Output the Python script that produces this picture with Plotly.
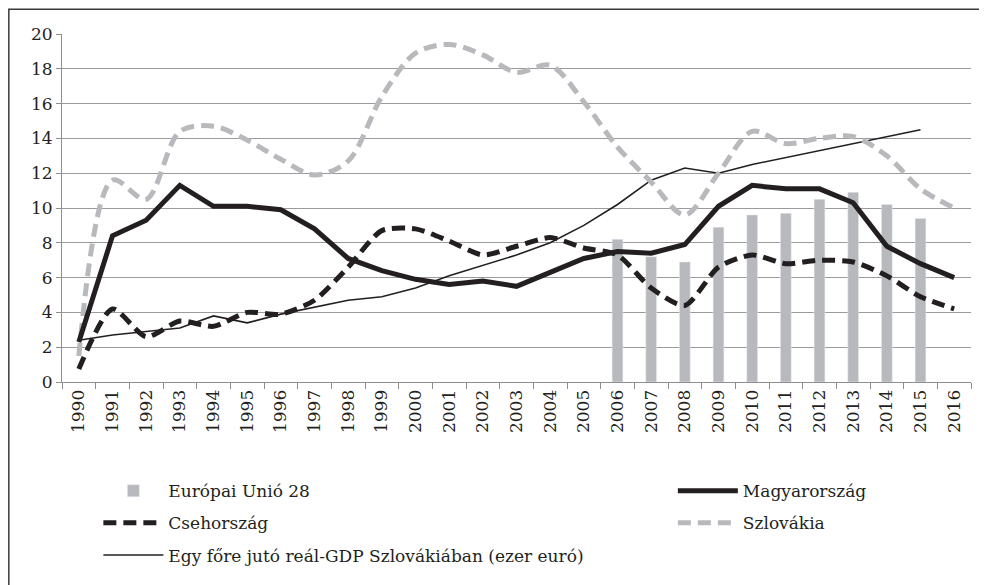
import plotly.graph_objects as go

years = [str(y) for y in range(1990, 2017)]

eu28 = [None]*16 + [8.2, 7.2, 6.9, 8.9, 9.6, 9.7, 10.5, 10.9, 10.2, 9.4, None]
magyarorszag = [2.3, 8.4, 9.3, 11.3, 10.1, 10.1, 9.9, 8.8, 7.1, 6.4, 5.9, 5.6, 5.8, 5.5,
                6.3, 7.1, 7.5, 7.4, 7.9, 10.1, 11.3, 11.1, 11.1, 10.3, 7.8, 6.8, 6.0]
csehorszag = [0.75, 4.2, 2.6, 3.5, 3.2, 4.0, 3.9, 4.7, 6.6, 8.7, 8.8, 8.1, 7.3, 7.8,
              8.3, 7.7, 7.3, 5.4, 4.4, 6.6, 7.3, 6.8, 7.0, 6.9, 6.1, 4.9, 4.2]
szlovakia = [1.5, 11.6, 10.5, 14.4, 14.7, 13.9, 12.8, 11.9, 12.7, 16.4, 18.9, 19.4, 18.8, 17.8,
             18.2, 16.1, 13.5, 11.5, 9.6, 12.0, 14.4, 13.7, 14.0, 14.1, 13.0, 11.1, 10.0]
gdp_sk = [2.4, 2.7, 2.9, 3.1, 3.8, 3.4, 3.9, 4.3, 4.7, 4.9, 5.4, 6.1, 6.7, 7.3,
          8.0, 9.0, 10.2, 11.6, 12.3, 12.0, 12.5, 12.9, 13.3, 13.7, 14.1, 14.5, None]

y_ticks = [0, 2, 4, 6, 8, 10, 12, 14, 16, 18, 20]

BLACK = "#231f20"
GRAY = "#b8b9bc"
FONT = "DejaVu Serif"

fig = go.Figure()
fig.add_trace(go.Bar(x=years, y=eu28, name="Európai Unió 28", marker_color=GRAY,
                     width=0.32, legend="legend", legendgroup="a", legendrank=1))
fig.add_trace(go.Scatter(x=years, y=gdp_sk, name="Egy főre jutó reál-GDP Szlovákiában (ezer euró)",
                         mode="lines", line=dict(color=BLACK, width=1.6),
                         legend="legend", legendgroup="c", legendrank=3))
fig.add_trace(go.Scatter(x=years, y=szlovakia, name="Szlovákia", mode="lines",
                         line=dict(color=GRAY, width=5, dash="13px,7px", shape="spline", smoothing=0.9),
                         legend="legend2", legendgroup="e", legendrank=2))
fig.add_trace(go.Scatter(x=years, y=csehorszag, name="Csehország", mode="lines",
                         line=dict(color=BLACK, width=5, dash="13px,7px", shape="spline", smoothing=0.7),
                         legend="legend", legendgroup="b", legendrank=2))
fig.add_trace(go.Scatter(x=years, y=magyarorszag, name="Magyarország", mode="lines",
                         line=dict(color=BLACK, width=5),
                         legend="legend2", legendgroup="d", legendrank=1))

legend_common = dict(orientation="v", traceorder="grouped", tracegroupgap=7,
                     font=dict(family=FONT, size=17, color=BLACK),
                     bgcolor="rgba(0,0,0,0)", itemwidth=60,
                     xanchor="left", yanchor="top")

fig.update_layout(
    width=979, height=577,
    margin=dict(l=54, r=16, t=26, b=197),
    paper_bgcolor="white", plot_bgcolor="white",
    font=dict(family=FONT, size=17, color=BLACK),
    legend=dict(x=0.04, y=-0.262, **legend_common),
    legend2=dict(x=0.672, y=-0.262, **legend_common),
    xaxis=dict(type="category", tickangle=-90, showgrid=False,
               showline=True, linecolor="#8e8e8e", linewidth=1,
               ticks="outside", ticklen=6, tickcolor="#8e8e8e", tickson="boundaries",
               tickfont=dict(family=FONT, size=17, color=BLACK)),
    yaxis=dict(range=[0, 20], tickvals=y_ticks, showgrid=True, gridcolor="#9b9b9b", gridwidth=1,
               showline=True, linecolor="#8e8e8e", linewidth=1,
               ticks="outside", ticklen=5, tickcolor="#8e8e8e", zeroline=False,
               tickfont=dict(family=FONT, size=17, color=BLACK)),
    shapes=[dict(type="rect", xref="paper", yref="paper",
                 x0=-0.0585, x1=1.03, y0=-0.6, y1=1.0713,
                 line=dict(color="#3a3a3a", width=1.5), layer="below")],
)

fig.write_html("out.html")
